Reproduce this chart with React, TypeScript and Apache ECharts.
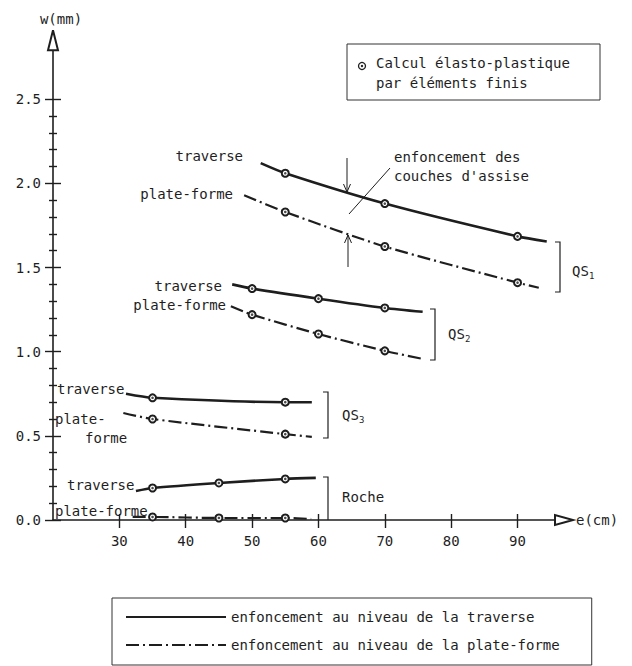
import React, { useEffect, useRef } from "react";
import * as echarts from "echarts";

const TRAVERSE = "enfoncement au niveau de la traverse";
const PLATEFORME = "enfoncement au niveau de la plate-forme";

// e (cm) and w (mm) of each curve; first/last points are curve ends, inner points are FE results
const qs1TraverseE = [51.3, 55, 70, 90, 94.4];
const qs1TraverseW = [2.12, 2.06, 1.88, 1.685, 1.655];
const qs1PlateE = [48.8, 55, 70, 90, 93.2];
const qs1PlateW = [1.93, 1.83, 1.625, 1.41, 1.38];
const qs2TraverseE = [47, 50, 60, 70, 75.7];
const qs2TraverseW = [1.4, 1.375, 1.315, 1.26, 1.237];
const qs2PlateE = [46.8, 50, 60, 70, 75.7];
const qs2PlateW = [1.27, 1.22, 1.105, 1.005, 0.957];
const qs3TraverseE = [31, 35, 55, 59];
const qs3TraverseW = [0.75, 0.726, 0.7, 0.7];
const qs3PlateE = [30.6, 35, 55, 59];
const qs3PlateW = [0.636, 0.6, 0.51, 0.494];
const rocheTraverseE = [32.5, 35, 45, 55, 59.6];
const rocheTraverseW = [0.172, 0.19, 0.22, 0.244, 0.25];
const rochePlateE = [32, 35, 45, 55, 58.9];
const rochePlateW = [0.018, 0.018, 0.012, 0.012, 0.006];

const xTicks = [30, 40, 50, 60, 70, 80, 90];
const yMajor = [0, 0.5, 1.0, 1.5, 2.0, 2.5];
const yMinor = [0.1, 0.2, 0.3, 0.4, 0.6, 0.7, 0.8, 0.9, 1.1, 1.2, 1.3, 1.4, 1.6, 1.7, 1.8, 1.9, 2.1, 2.2, 2.3, 2.4];

const INK = "#1e1e1e";
const FONT = '"DejaVu Sans Mono", monospace';

const curves = [
  { name: TRAVERSE, e: qs1TraverseE, w: qs1TraverseW, dashed: false },
  { name: PLATEFORME, e: qs1PlateE, w: qs1PlateW, dashed: true },
  { name: TRAVERSE, e: qs2TraverseE, w: qs2TraverseW, dashed: false },
  { name: PLATEFORME, e: qs2PlateE, w: qs2PlateW, dashed: true },
  { name: TRAVERSE, e: qs3TraverseE, w: qs3TraverseW, dashed: false },
  { name: PLATEFORME, e: qs3PlateE, w: qs3PlateW, dashed: true },
  { name: TRAVERSE, e: rocheTraverseE, w: rocheTraverseW, dashed: false },
  { name: PLATEFORME, e: rochePlateE, w: rochePlateW, dashed: true },
];

function txt(x: number, y: number, text: string, align = "left", size = 14) {
  return {
    type: "text",
    x,
    y,
    silent: true,
    style: { text, fontFamily: FONT, fontSize: size, fill: INK, align, verticalAlign: "middle" },
  };
}
function seg(x1: number, y1: number, x2: number, y2: number, w = 1.2) {
  return { type: "line", silent: true, shape: { x1, y1, x2, y2 }, style: { stroke: INK, lineWidth: w } };
}
function poly(points: number[][], w = 1.2) {
  return { type: "polyline", silent: true, shape: { points }, style: { stroke: INK, lineWidth: w, fill: "none" } };
}

export default function App() {
  const ref = useRef<HTMLDivElement>(null);
  useEffect(() => {
    if (!ref.current) return;
    const chart = echarts.init(ref.current, null, { renderer: "svg" });

    const lineSeries = curves.map((c) => ({
      type: "line",
      name: c.name,
      xAxisIndex: 0,
      yAxisIndex: 0,
      smooth: 0.25,
      symbol: "none",
      symbolSize: 7,
      showSymbol: true,
      lineStyle: { color: INK, width: c.dashed ? 2.2 : 2.6, type: c.dashed ? [13, 4, 2, 4] : "solid" },
      itemStyle: { color: INK, borderWidth: 1.3 },
      data: c.e.map((x, i) => ({
        value: [x, c.w[i]],
        symbol: i === 0 || i === c.e.length - 1 ? "none" : "emptyCircle",
      })),
      z: 2,
    }));

    const dots: number[][] = [];
    curves.forEach((c) => c.e.forEach((x, i) => { if (i > 0 && i < c.e.length - 1) dots.push([x, c.w[i]]); }));

    const tickStyle = { color: INK, width: 1.4 };
    const baseY = { type: "value", min: 0, max: 2.85, position: "left", offset: 0, splitLine: { show: false } };
    const baseX = { type: "value", min: 20, max: 97, position: "bottom", offset: 0, splitLine: { show: false } };

    const option: any = {
      animation: false,
      backgroundColor: "#ffffff",
      grid: { left: 53, top: 40.3, width: 511, height: 479.7 },
      xAxis: [
        {
          ...baseX,
          name: "e(cm)",
          nameLocation: "end",
          nameGap: 12,
          nameTextStyle: { fontFamily: FONT, fontSize: 14, color: INK, verticalAlign: "middle" },
          axisLine: { show: true, onZero: false, symbol: ["none", "emptyTriangle"], symbolSize: [10, 18], lineStyle: { color: INK, width: 1.6 } },
          axisTick: { show: true, inside: false, length: 8, customValues: xTicks, lineStyle: tickStyle },
          axisLabel: { show: true, customValues: xTicks, fontFamily: FONT, fontSize: 14, color: INK, margin: 14 },
        },
        {
          ...baseX,
          axisLine: { show: false },
          axisTick: { show: true, inside: true, length: 6, customValues: xTicks, lineStyle: tickStyle },
          axisLabel: { show: false },
        },
      ],
      yAxis: [
        {
          ...baseY,
          name: "w(mm)",
          nameLocation: "end",
          nameGap: 14,
          nameTextStyle: { fontFamily: FONT, fontSize: 14, color: INK, padding: [0, 0, 0, 16] },
          axisLine: { show: true, onZero: false, symbol: ["none", "emptyTriangle"], symbolSize: [10, 20], lineStyle: { color: INK, width: 1.6 } },
          axisTick: { show: true, inside: false, length: 8, customValues: yMajor, lineStyle: tickStyle },
          axisLabel: {
            show: true,
            customValues: yMajor,
            fontFamily: FONT,
            fontSize: 14,
            color: INK,
            margin: 12,
            formatter: (v: number) => v.toFixed(1),
          },
        },
        { ...baseY, axisLine: { show: false }, axisLabel: { show: false }, axisTick: { show: true, inside: true, length: 8, customValues: yMajor, lineStyle: tickStyle } },
        { ...baseY, axisLine: { show: false }, axisLabel: { show: false }, axisTick: { show: true, inside: false, length: 4, customValues: yMinor, lineStyle: tickStyle } },
        { ...baseY, axisLine: { show: false }, axisLabel: { show: false }, axisTick: { show: true, inside: true, length: 4, customValues: yMinor, lineStyle: tickStyle } },
      ],
      legend: {
        data: [TRAVERSE, PLATEFORME],
        orient: "vertical",
        left: 112,
        top: 598,
        padding: [12, 32, 13, 13],
        itemWidth: 100,
        itemHeight: 14,
        itemGap: 14,
        borderColor: "#333",
        borderWidth: 1,
        selectedMode: false,
        itemStyle: { color: "rgba(0,0,0,0)", borderColor: "rgba(0,0,0,0)", borderWidth: 0, opacity: 0 },
        textStyle: { fontFamily: FONT, fontSize: 14, color: INK },
      },
      series: [
        ...lineSeries,
        {
          type: "scatter",
          xAxisIndex: 0,
          yAxisIndex: 0,
          symbol: "circle",
          symbolSize: 2.6,
          itemStyle: { color: INK },
          data: dots,
          silent: true,
          z: 5,
        },
      ],
      graphic: [
        // FE legend box
        { type: "rect", silent: true, shape: { x: 347, y: 44, width: 253, height: 56 }, style: { fill: "none", stroke: "#333", lineWidth: 1 } },
        { type: "circle", silent: true, shape: { cx: 362, cy: 66, r: 3.5 }, style: { fill: "#fff", stroke: INK, lineWidth: 1.3 } },
        { type: "circle", silent: true, shape: { cx: 362, cy: 66, r: 1.2 }, style: { fill: INK } },
        txt(376, 63, "Calcul élasto-plastique"),
        txt(376, 83, "par éléments finis"),
        // curve labels
        txt(243, 156, "traverse", "right"),
        txt(233, 194, "plate-forme", "right"),
        txt(222, 286, "traverse", "right"),
        txt(226, 305, "plate-forme", "right"),
        txt(57, 389, "traverse"),
        txt(55, 419, "plate-"),
        txt(85, 438, "forme"),
        txt(67, 485, "traverse"),
        txt(55, 511, "plate-forme"),
        // annotation
        txt(394, 157, "enfoncement des"),
        txt(394, 176, "couches d'assise"),
        seg(349, 214, 390, 168, 1),
        seg(347, 158, 347, 192, 1),
        poly([[343.5, 184], [347, 192], [350.5, 184]], 1),
        seg(348, 267, 348, 235, 1),
        poly([[344.5, 243], [348, 235], [351.5, 243]], 1),
        // brackets
        poly([[555, 242], [560, 242], [560, 292], [555, 292]]),
        poly([[430, 309], [435, 309], [435, 360], [430, 360]]),
        poly([[323, 392], [328, 392], [328, 438], [323, 438]]),
        poly([[323, 477], [328, 477], [328, 520]]),
        txt(572, 271, "QS"),
        txt(589, 276, "1", "left", 9),
        txt(448, 334, "QS"),
        txt(465, 339, "2", "left", 9),
        txt(342, 415, "QS"),
        txt(359, 420, "3", "left", 9),
        txt(342, 497, "Roche"),
      ],
    };

    chart.setOption(option);
    return () => chart.dispose();
  }, []);

  return (
    <div
      ref={ref}
      style={{ position: "absolute", left: 0, top: 0, width: 632, height: 666, background: "#fff" }}
    />
  );
}
